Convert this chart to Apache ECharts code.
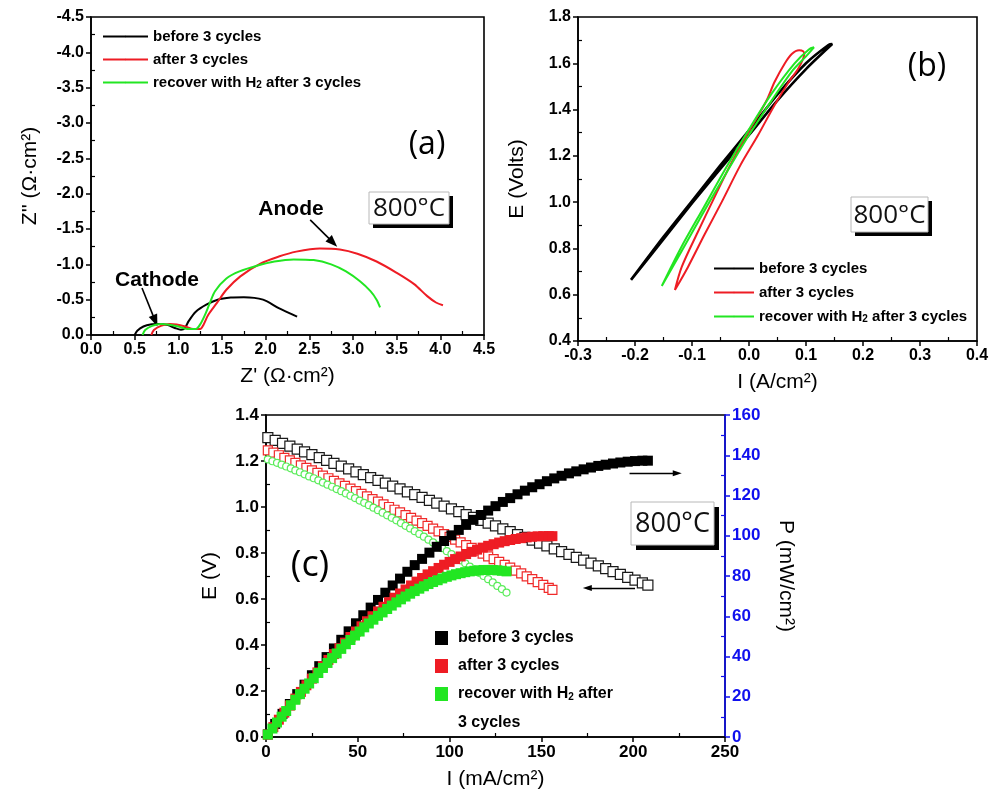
<!DOCTYPE html>
<html><head><meta charset="utf-8">
<script src="https://cdn.jsdelivr.net/npm/echarts@6/dist/echarts.min.js"></script>
<style>html,body{margin:0;padding:0;background:#fff}#c{width:994px;height:801px}</style>
</head><body><div id="c"></div><script>
// ---------- labels ----------
const legendLabels = ['before 3 cycles', 'after 3 cycles', 'recover with H{sub|2} after 3 cycles'];
const legendLabelsC = ['before 3 cycles', 'after 3 cycles', 'recover with H{sub|2} after'];
const colors = ['#000000', '#ee1c24', '#22e622'];
const openColors = ['#1a1a1a', '#f02a2a', '#5aec5a'];

// ---------- (a) Nyquist ----------
const zReBefore = [0.50,0.53,0.60,0.68,0.78,0.88,0.96,1.03,1.07,1.12,1.20,1.32,1.45,1.60,1.75,1.97,2.15,2.36];
const zImBefore = [0,-0.06,-0.12,-0.15,-0.155,-0.14,-0.10,-0.075,-0.09,-0.20,-0.33,-0.43,-0.50,-0.53,-0.535,-0.50,-0.38,-0.26];
const zReAfter = [0.69,0.72,0.80,0.90,0.98,1.08,1.15,1.25,1.29,1.34,1.44,1.55,1.71,1.94,2.15,2.35,2.62,2.85,3.05,3.27,3.50,3.70,3.85,3.95,4.03];
const zImAfter = [0,-0.07,-0.13,-0.155,-0.15,-0.12,-0.09,-0.085,-0.15,-0.28,-0.45,-0.64,-0.83,-1.01,-1.11,-1.18,-1.225,-1.21,-1.15,-1.04,-0.88,-0.72,-0.55,-0.46,-0.42];
const zReRec = [0.59,0.62,0.70,0.80,0.90,1.00,1.10,1.20,1.25,1.30,1.36,1.42,1.55,1.70,1.90,2.10,2.32,2.55,2.75,2.92,3.08,3.20,3.27,3.31];
const zImRec = [0,-0.07,-0.13,-0.155,-0.145,-0.12,-0.085,-0.085,-0.15,-0.27,-0.45,-0.62,-0.80,-0.90,-0.98,-1.04,-1.07,-1.06,-1.00,-0.90,-0.76,-0.62,-0.50,-0.39];

// ---------- (b) cyclic E-I ----------
const cvIBefore = [-0.207,-0.15,-0.10,-0.05,0.0,0.05,0.10,0.146,0.14,0.10,0.05,0.0,-0.05,-0.10,-0.15,-0.207];
const cvEBefore = [0.664,0.84,0.995,1.145,1.29,1.44,1.575,1.683,1.68,1.60,1.465,1.31,1.16,1.005,0.85,0.664];
const cvIAfter = [-0.13,-0.107,-0.078,-0.048,-0.015,0.016,0.045,0.070,0.087,0.097,0.095,0.088,0.075,0.063,0.045,0.031,0.015,-0.004,-0.035,-0.063,-0.09,-0.118,-0.13];
const cvEAfter = [0.62,0.72,0.86,1.0,1.16,1.29,1.42,1.52,1.58,1.64,1.652,1.656,1.64,1.60,1.52,1.44,1.37,1.29,1.15,1.009,0.87,0.72,0.62];
const cvIRec = [-0.153,-0.12,-0.08,-0.04,0.0,0.04,0.077,0.10,0.114,0.105,0.08,0.04,0.0,-0.04,-0.08,-0.12,-0.153];
const cvERec = [0.638,0.78,0.955,1.125,1.29,1.44,1.57,1.63,1.669,1.66,1.60,1.47,1.315,1.15,0.975,0.80,0.638];

// ---------- (c) E-I and P-I ----------
const iBefore = [1,5,9,13,17,21,25,29,33,37,41,45,49,53,57,61,65,69,73,77,81,85,89,93,97,101,105,109,113,117,121,125,129,133,137,141,145,149,153,157,161,165,169,173,177,181,185,189,193,197,201,205,208];
const eBefore = [1.302,1.290,1.277,1.265,1.252,1.240,1.228,1.215,1.203,1.190,1.178,1.166,1.153,1.141,1.128,1.116,1.104,1.091,1.079,1.066,1.054,1.042,1.029,1.017,1.004,0.992,0.980,0.967,0.955,0.942,0.930,0.918,0.905,0.893,0.880,0.868,0.856,0.843,0.831,0.818,0.806,0.794,0.781,0.769,0.756,0.744,0.732,0.719,0.707,0.694,0.682,0.670,0.660];
const pBefore = [1.3,6.5,11.5,16.4,21.3,26.0,30.7,35.2,39.7,44.0,48.3,52.5,56.5,60.5,64.3,68.1,71.7,75.3,78.7,82.1,85.4,88.5,91.6,94.5,97.4,100.2,102.9,105.4,107.9,110.3,112.5,114.7,116.8,118.7,120.6,122.4,124.1,125.6,127.1,128.5,129.8,131.0,132.0,133.0,133.9,134.7,135.3,135.9,136.4,136.8,137.1,137.3,137.3];
const iAfter = [1,4,7,10,13,16,19,22,25,28,31,34,37,40,43,46,49,52,55,58,61,64,67,70,73,76,79,82,85,88,91,94,97,100,103,106,109,112,115,118,121,124,127,130,133,136,139,142,145,148,151,154,156];
const eAfter = [1.246,1.236,1.225,1.214,1.203,1.192,1.181,1.170,1.159,1.148,1.136,1.125,1.114,1.103,1.092,1.080,1.069,1.057,1.046,1.034,1.023,1.011,1.000,0.988,0.977,0.965,0.953,0.941,0.930,0.918,0.906,0.894,0.882,0.870,0.858,0.846,0.834,0.822,0.810,0.797,0.785,0.773,0.761,0.748,0.736,0.723,0.711,0.698,0.686,0.673,0.661,0.648,0.640];
const pAfter = [1.2,4.9,8.6,12.1,15.6,19.1,22.4,25.7,29.0,32.1,35.2,38.3,41.2,44.1,46.9,49.7,52.4,55.0,57.5,60.0,62.4,64.7,67.0,69.2,71.3,73.3,75.3,77.2,79.0,80.8,82.4,84.0,85.6,87.0,88.4,89.7,90.9,92.0,93.1,94.1,95.0,95.8,96.6,97.3,97.9,98.4,98.8,99.2,99.5,99.7,99.8,99.8,99.8];
const iRec = [1,3.5,6,8.5,11,13.5,16,18.5,21,23.5,26,28.5,31,33.5,36,38.5,41,43.5,46,48.5,51,53.5,56,58.5,61,63.5,66,68.5,71,73.5,76,78.5,81,83.5,86,88.5,91,93.5,96,98.5,101,103.5,106,108.5,111,113.5,116,118.5,121,123.5,126,128.5,131];
const eRec = [1.207,1.199,1.192,1.184,1.176,1.168,1.159,1.151,1.142,1.133,1.125,1.116,1.106,1.097,1.088,1.078,1.069,1.059,1.049,1.039,1.028,1.018,1.008,0.997,0.986,0.975,0.964,0.953,0.942,0.930,0.918,0.907,0.895,0.883,0.871,0.858,0.846,0.833,0.821,0.808,0.795,0.782,0.768,0.755,0.741,0.728,0.714,0.700,0.686,0.672,0.657,0.643,0.628];
const pRec = [1.2,4.2,7.2,10.1,12.9,15.8,18.5,21.3,24.0,26.6,29.2,31.8,34.3,36.8,39.2,41.5,43.8,46.1,48.2,50.4,52.4,54.5,56.4,58.3,60.2,61.9,63.6,65.3,66.9,68.4,69.8,71.2,72.5,73.7,74.9,76.0,77.0,77.9,78.8,79.6,80.3,80.9,81.4,81.9,82.3,82.6,82.8,83.0,83.0,83.0,82.8,82.6,82.3];

// ---------- build ----------
const zip = (a, b) => a.map((v, i) => [v, b[i]]);
const F = 'Liberation Sans';
const OF = 'Open Sans';
const subRich = { sub: { fontSize: 10, fontWeight: 'bold', fontFamily: F, verticalAlign: 'bottom', lineHeight: 9 } };

function valAxis(o) {
  const col = o.color || '#000';
  return Object.assign({
    type: 'value',
    axisLine: { show: true, onZero: false, lineStyle: { color: col, width: 1.6 } },
    axisTick: { show: true, inside: false, length: 5, lineStyle: { color: col, width: 1.5 } },
    minorTick: { show: true, splitNumber: 2, length: -4, lineStyle: { color: col, width: 1.2 } },
    splitLine: { show: false },
    axisLabel: { show: true, interval: 0, color: col, fontFamily: F, fontWeight: 'bold', fontSize: o.fs || 16, margin: 7,
      formatter: o.fmt || (v => String(v)) },
    nameLocation: 'middle',
    nameTextStyle: { fontFamily: F, fontSize: 21, color: '#000' }
  }, o.extra);
}
const f1 = v => (Math.abs(v) < 1e-9 ? 0 : v).toFixed(1);

const series = [];
// (a)
[[zReBefore, zImBefore], [zReAfter, zImAfter], [zReRec, zImRec]].forEach((d, k) => {
  series.push({ name: 'a' + k, type: 'line', xAxisIndex: 0, yAxisIndex: 0, data: zip(d[0], d[1]),
    showSymbol: false, symbol: 'none', smooth: 0.3, lineStyle: { color: colors[k], width: 2 }, itemStyle: { color: colors[k] }, z: 3 + k });
});
// (b)
[[cvIBefore, cvEBefore], [cvIAfter, cvEAfter], [cvIRec, cvERec]].forEach((d, k) => {
  series.push({ name: 'b' + k, type: 'line', xAxisIndex: 1, yAxisIndex: 1, data: zip(d[0], d[1]),
    showSymbol: false, symbol: 'none', smooth: 0.3, lineStyle: { color: colors[k], width: k === 0 ? 2.6 : 2 }, itemStyle: { color: colors[k] } });
});
// (c) E open markers
const eSets = [[iBefore, eBefore, 'rect', 10], [iAfter, eAfter, 'rect', 9], [iRec, eRec, 'circle', 7]];
eSets.forEach((d, k) => {
  series.push({ name: 'ce' + k, type: 'scatter', xAxisIndex: 2, yAxisIndex: 2, data: zip(d[0], d[1]),
    symbol: d[2], symbolSize: d[3], itemStyle: { color: '#fff', opacity: 1, borderColor: openColors[k], borderWidth: 1.2 }, z: 3 });
});
// (c) P filled markers
const pSets = [[iBefore, pBefore], [iAfter, pAfter], [iRec, pRec]];
pSets.forEach((d, k) => {
  series.push({ name: 'cp' + k, type: 'scatter', xAxisIndex: 2, yAxisIndex: 3, data: zip(d[0], d[1]),
    symbol: 'rect', symbolSize: 10, itemStyle: { color: colors[k], opacity: 1 }, z: 4 });
});

// arrows (annotation) in data coordinates
series[0].markLine = { silent: true, symbol: ['none', 'triangle'], symbolSize: [9, 12], label: { show: false }, lineStyle: { color: '#000', width: 1.6, type: 'solid' },
  data: [ [{ coord: [2.51, -1.63] }, { coord: [2.77, -1.31] }], [{ coord: [0.584, -0.665] }, { coord: [0.735, -0.20] }] ] };
series[9].markLine = { silent: true, symbol: ['none', 'triangle'], symbolSize: [6, 9], label: { show: false }, lineStyle: { color: '#000', width: 1.4, type: 'solid' },
  data: [ [{ coord: [198, 131] }, { coord: [224, 131] }] ] };
series[6].markLine = { silent: true, symbol: ['none', 'triangle'], symbolSize: [6, 9], label: { show: false }, lineStyle: { color: '#000', width: 1.4, type: 'solid' },
  data: [ [{ coord: [201, 0.648] }, { coord: [175, 0.648] }] ] };

function box(x, y, w, h, off, fs) {
  return [
    { type: 'rect', shape: { x: x + off, y: y + off, width: w, height: h }, style: { fill: '#000' }, z: 10 },
    { type: 'rect', shape: { x: x, y: y, width: w, height: h }, style: { fill: '#fff', stroke: '#b8b8b8', lineWidth: 1 }, z: 11 },
    { type: 'text', x: x + w / 2, y: y + h / 2 + 1, style: { text: '800°C', fontFamily: OF, fontSize: fs, fill: '#111', align: 'center', verticalAlign: 'middle' }, z: 12 }
  ];
}
function txt(x, y, t, fs, bold, fam) {
  return { type: 'text', x: x, y: y, style: { text: t, fontFamily: fam || F, fontSize: fs, fontWeight: bold ? 'bold' : 'normal', fill: '#000', align: 'center', verticalAlign: 'middle' }, z: 12 };
}

const lineLegend = (names, left, top, w, gap) => ({
  data: names, orient: 'vertical', left: left, top: top, padding: 0, itemWidth: w, itemHeight: 2, itemGap: gap,
  formatter: n => legendLabels[+n.slice(1)], selectedMode: false,
  textStyle: { fontFamily: F, fontWeight: 'bold', fontSize: 15, color: '#000', rich: subRich }
});

const option = {
  animation: false,
  backgroundColor: '#fff',
  grid: [
    { left: 91, top: 17, width: 393, height: 318, show: true, borderColor: '#000', borderWidth: 1.6, backgroundColor: 'transparent' },
    { left: 578, top: 17, width: 399, height: 324, show: true, borderColor: '#000', borderWidth: 1.6, backgroundColor: 'transparent' },
    { left: 266, top: 415, width: 459, height: 322, show: true, borderColor: '#000', borderWidth: 1.6, backgroundColor: 'transparent' }
  ],
  xAxis: [
    valAxis({ fmt: f1, extra: { gridIndex: 0, min: 0, max: 4.5, interval: 0.5, name: "Z' (Ω·cm²)", nameGap: 31 } }),
    valAxis({ fmt: f1, extra: { gridIndex: 1, min: -0.3, max: 0.4, interval: 0.1, name: 'I (A/cm²)', nameGap: 31 } }),
    valAxis({ fs: 17, extra: { gridIndex: 2, min: 0, max: 250, interval: 50, name: 'I (mA/cm²)', nameGap: 32 } })
  ],
  yAxis: [
    valAxis({ fmt: f1, extra: { gridIndex: 0, min: -4.5, max: 0, interval: 0.5, inverse: true, name: "Z'' (Ω·cm²)", nameGap: 50 } }),
    valAxis({ fmt: f1, extra: { gridIndex: 1, min: 0.4, max: 1.8, interval: 0.2, name: 'E (Volts)', nameGap: 50 } }),
    valAxis({ fmt: f1, fs: 17, extra: { gridIndex: 2, min: 0, max: 1.4, interval: 0.2, name: 'E (V)', nameGap: 45 } }),
    valAxis({ fs: 17, color: '#1010ee', extra: { gridIndex: 2, position: 'right', min: 0, max: 160, interval: 20, name: 'P (mW/cm²)', nameGap: 50, nameRotate: -90 } })
  ],
  legend: [
    lineLegend(['a0', 'a1', 'a2'], 102, 29, 45, 8),
    lineLegend(['b0', 'b1', 'b2'], 713, 261, 40, 9),
    { data: ['cp0', 'cp1', 'cp2'], orient: 'vertical', left: 435, top: 630, padding: 0, itemWidth: 13, itemHeight: 14, itemGap: 12,
      formatter: n => legendLabelsC[+n.slice(2)], selectedMode: false,
      textStyle: { fontFamily: F, fontWeight: 'bold', fontSize: 16, color: '#000', padding: [0, 0, 0, 5],
        rich: { sub: { fontSize: 10, fontWeight: 'bold', fontFamily: F, verticalAlign: 'bottom', lineHeight: 9 } } } }
  ],
  graphic: [].concat(
    box(369, 192, 80, 32, 4, 26),
    box(851, 197, 77, 35, 4, 26),
    box(631, 502, 83, 43, 5, 27),
    [
      txt(427, 145, '(a)', 32, false, OF),
      txt(927, 67, '(b)', 32, false, OF),
      txt(310, 566, '(c)', 36, false, OF),
      txt(291, 209, 'Anode', 21, true),
      txt(157, 280, 'Cathode', 21, true),
      { type: 'text', x: 458, y: 723, style: { text: '3 cycles', fontFamily: F, fontSize: 16, fontWeight: 'bold', fill: '#000', align: 'left', verticalAlign: 'middle' }, z: 12 }
    ]
  ),
  series: series
};
const chart = echarts.init(document.getElementById('c'));
chart.setOption(option);
</script></body></html>
